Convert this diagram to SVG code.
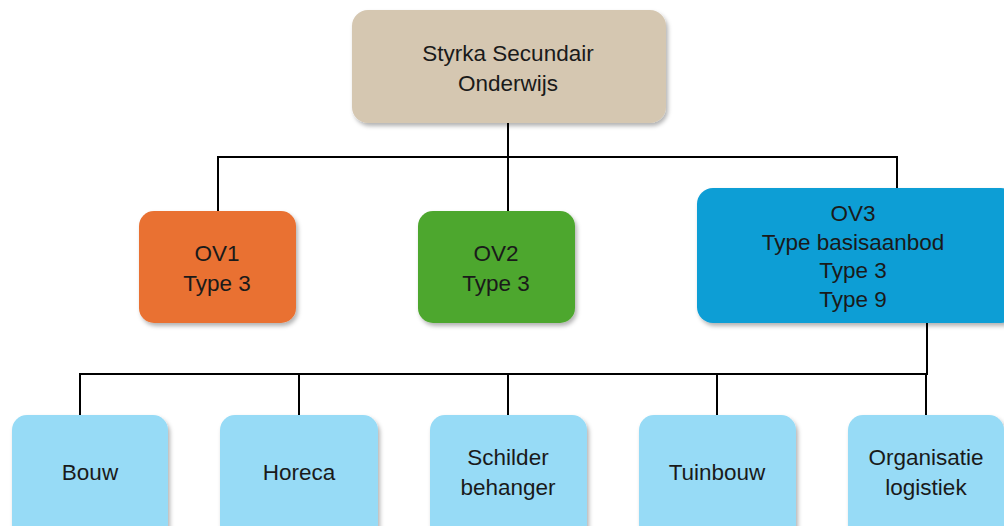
<svg xmlns="http://www.w3.org/2000/svg" width="1004" height="526" viewBox="0 0 1004 526">
<defs>
<filter id="sh" x="-10%" y="-10%" width="125%" height="130%">
<feDropShadow dx="2" dy="3" stdDeviation="2" flood-color="#000" flood-opacity="0.3"/>
</filter>
</defs>
<style>
.n{filter:url(#sh)}
.t{font-family:"Liberation Sans","Open Sans",sans-serif;font-size:22.5px;fill:#1a1a1a;text-anchor:middle}
.c{stroke:#000;stroke-width:2;fill:none}
</style>
<rect width="1004" height="526" fill="#fff"/>
<g id="connectors">
<path class="c" d="M508 123V211M218 211V157H897V188"/>
<path class="c" d="M927 323V374H80V415M299 374V415M508 374V415M717 374V415M926 374V415"/>
</g>
<g id="root">
<rect class="n" x="352" y="10" width="314" height="113" rx="16" fill="#D5C7B1"/>
<text class="t" x="508" y="61">Styrka Secundair</text>
<text class="t" x="508" y="91">Onderwijs</text>
</g>
<g id="ov1">
<rect class="n" x="139" y="211" width="157" height="112" rx="15" fill="#E97132"/>
<text class="t" x="217" y="261">OV1</text>
<text class="t" x="217" y="291">Type 3</text>
</g>
<g id="ov2">
<rect class="n" x="418" y="211" width="157" height="112" rx="15" fill="#4EA72E"/>
<text class="t" x="496" y="261">OV2</text>
<text class="t" x="496" y="291">Type 3</text>
</g>
<g id="ov3">
<rect class="n" x="697" y="188" width="320" height="135" rx="16" fill="#0F9ED5"/>
<text class="t" x="853" y="221">OV3</text>
<text class="t" x="853" y="250">Type basisaanbod</text>
<text class="t" x="853" y="278">Type 3</text>
<text class="t" x="853" y="307">Type 9</text>
</g>
<g id="bouw">
<rect class="n" x="12" y="415" width="156" height="125" rx="15" fill="#97DBF6"/>
<text class="t" x="90" y="480">Bouw</text>
</g>
<g id="horeca">
<rect class="n" x="220" y="415" width="158" height="125" rx="15" fill="#97DBF6"/>
<text class="t" x="299" y="480">Horeca</text>
</g>
<g id="schilder">
<rect class="n" x="430" y="415" width="157" height="125" rx="15" fill="#97DBF6"/>
<text class="t" x="508" y="465">Schilder</text>
<text class="t" x="508" y="495">behanger</text>
</g>
<g id="tuinbouw">
<rect class="n" x="639" y="415" width="157" height="125" rx="15" fill="#97DBF6"/>
<text class="t" x="717" y="480">Tuinbouw</text>
</g>
<g id="organisatie">
<rect class="n" x="848" y="415" width="156" height="125" rx="15" fill="#97DBF6"/>
<text class="t" x="926" y="465">Organisatie</text>
<text class="t" x="926" y="495">logistiek</text>
</g>
</svg>
